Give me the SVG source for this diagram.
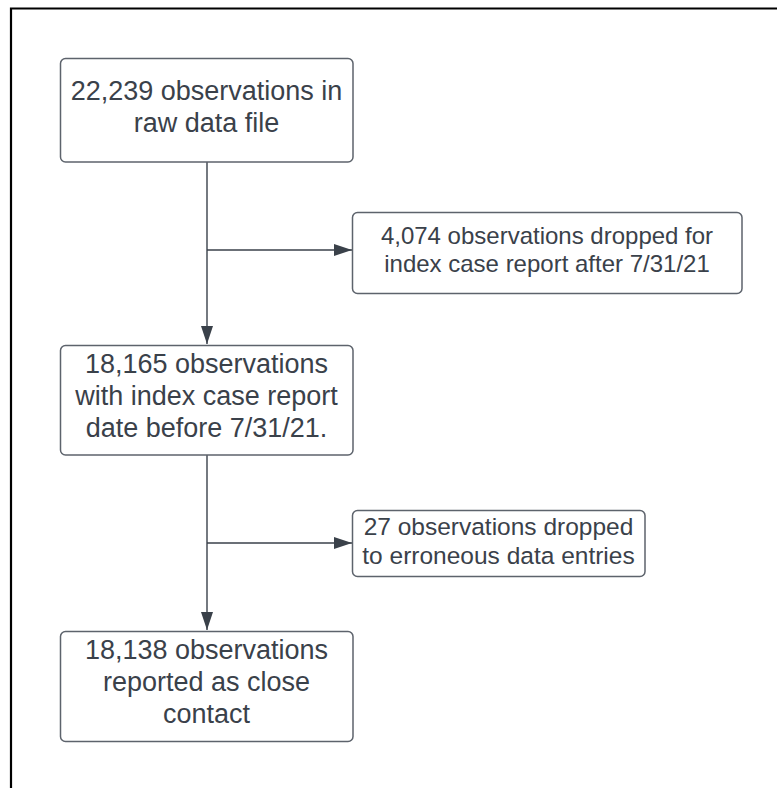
<svg xmlns="http://www.w3.org/2000/svg" width="777" height="788" viewBox="0 0 777 788">
<style>
.box{fill:#ffffff;stroke:#5d636c;stroke-width:1.5}
.t{font-family:"Liberation Sans",Arial,sans-serif;font-size:27px;fill:#3a414a;text-anchor:middle}
.t2{font-size:24px}
.t4{font-size:24.5px}
.c{fill:none;stroke:#3a414a;stroke-width:1.4}
</style>
<defs>
<marker id="ah" markerWidth="18" markerHeight="12" refX="18" refY="6" orient="auto" markerUnits="userSpaceOnUse">
<path d="M0,0 L18,6 L0,12 Z" fill="#3a414a"/>
</marker>
</defs>
<rect x="0" y="0" width="777" height="788" fill="#ffffff"/>
<path d="M11,792 V8.5 H781" fill="none" stroke="#000000" stroke-width="2.2"/>
<g id="connectors">
<path class="c" d="M207,162 V344" marker-end="url(#ah)"/>
<path class="c" d="M207,250 H352" marker-end="url(#ah)"/>
<path class="c" d="M207,455 V630" marker-end="url(#ah)"/>
<path class="c" d="M207,543 H352" marker-end="url(#ah)"/>
</g>
<g id="n1">
<rect class="box" x="60.5" y="58.5" width="292.5" height="103.5" rx="5"/>
<text class="t" x="206.5" y="100">22,239 observations in</text>
<text class="t" x="206.5" y="132">raw data file</text>
</g>
<g id="n2">
<rect class="box" x="352.5" y="212.5" width="389.5" height="81" rx="5"/>
<text class="t t2" x="547" y="244">4,074 observations dropped for</text>
<text class="t t2" x="547" y="272">index case report after 7/31/21</text>
</g>
<g id="n3">
<rect class="box" x="60.5" y="345.5" width="292.5" height="109.5" rx="5"/>
<text class="t" x="206.5" y="373">18,165 observations</text>
<text class="t" x="206.5" y="405">with index case report</text>
<text class="t" x="206.5" y="437">date before 7/31/21.</text>
</g>
<g id="n4">
<rect class="box" x="352.5" y="510.5" width="292.5" height="66" rx="5"/>
<text class="t t4" x="498.5" y="535">27 observations dropped</text>
<text class="t t4" x="498.5" y="564">to erroneous data entries</text>
</g>
<g id="n5">
<rect class="box" x="60.5" y="631.5" width="292.5" height="110" rx="5"/>
<text class="t" x="206.5" y="659">18,138 observations</text>
<text class="t" x="206.5" y="691">reported as close</text>
<text class="t" x="206.5" y="723">contact</text>
</g>
</svg>
